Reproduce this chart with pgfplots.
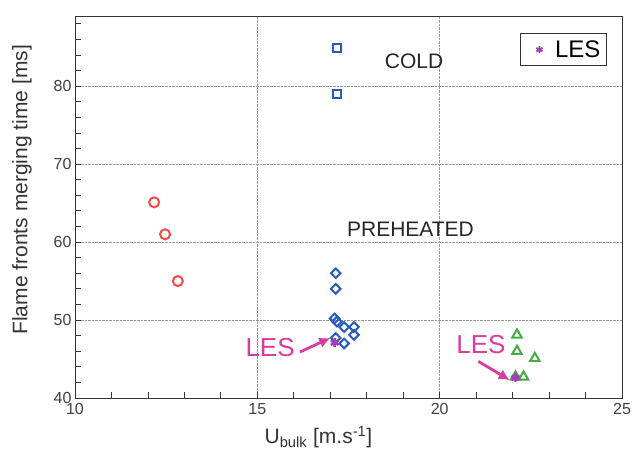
\documentclass[border=0pt]{standalone}
\usepackage{fontspec}
\setmainfont{Liberation Sans}
\usepackage{pgfplots}
\pgfplotsset{compat=1.18}
\usetikzlibrary{arrows.meta}
\definecolor{cred}{RGB}{240,75,75}
\definecolor{cblue}{RGB}{40,90,190}
\definecolor{cgreen}{RGB}{70,170,70}
\definecolor{cles}{RGB}{165,60,185}
\definecolor{cmag}{RGB}{215,60,160}
\begin{document}
\begin{tikzpicture}
\begin{axis}[
  name=ax,
  scale only axis,
  width=547pt, height=382pt,
  xmin=10, xmax=25, ymin=40, ymax=89,
  xtick={10,15,20,25}, ytick={40,50,60,70,80},
  minor xtick={11,12,13,14,16,17,18,19,21,22,23,24},
  minor ytick={42,44,46,48,52,54,56,58,62,64,66,68,72,74,76,78,82,84,86,88},
  tick align=inside, xtick pos=left, ytick pos=left,
  major tick length=6pt, minor tick length=6pt,
  grid=major,
  major grid style={densely dotted, gray!80, line width=0.7pt},
  axis line style={black!80, line width=0.8pt},
  every tick/.style={black!80, line width=0.8pt},
  /pgf/number format/assume math mode=true,
  tick label style={font=\fontsize{16}{18}\selectfont, text=black!75},
  xticklabel style={yshift=-2pt},
  xlabel={U\textsubscript{bulk} [m.s\textsuperscript{-1}]},
  ylabel={Flame fronts merging time [ms]},
  label style={font=\fontsize{21}{24}\selectfont, text=black!80},
  xlabel style={at={(axis description cs:0.445,-0.102)}, anchor=center},
  ylabel style={at={(axis description cs:-0.097,0.545)}, anchor=center},
  legend style={at={(1,1)}, anchor=north east, xshift=-15pt, yshift=-17pt,
    font=\fontsize{24}{26}\selectfont, draw=black!80, line width=1pt,
    inner xsep=4pt, inner ysep=5pt},
  legend image code/.code={\path (0cm,0cm) (0.95cm,0cm); \draw[mark repeat=2,mark phase=2,#1] plot coordinates {(0cm,0cm) (0.5cm,0cm) (0.95cm,0cm)};},
  legend cell align=left,
]
\addplot[only marks, mark=asterisk, mark size=3.5pt, color=cles, line width=1.8pt] coordinates {(17.12,47.1) (22.08,42.6)};
\addlegendentry{LES}
\addplot[only marks, mark=o, mark size=5pt, color=cred, line width=2pt, forget plot] coordinates {(12.17,65.1) (12.47,61.0) (12.82,55.0)};
\addplot[only marks, mark=square, mark size=4pt, color=cblue, line width=2pt, forget plot] coordinates {(17.18,84.9) (17.18,79.0)};
\addplot[only marks, mark=square, mark size=3.4pt, mark options={rotate=45}, color=cblue, line width=2pt, forget plot] coordinates {(17.15,56.0) (17.15,54.0) (17.12,50.2) (17.18,49.8) (17.38,49.1) (17.65,49.1) (17.65,48.1) (17.15,47.7) (17.38,47.0)};
\addplot[only marks, mark=triangle, mark size=5.5pt, color=cgreen, line width=2pt, forget plot] coordinates {(22.12,48.1) (22.12,46.0) (22.61,45.1) (22.30,42.7) (22.08,42.7)};
\addplot[only marks, mark=asterisk, mark size=4.5pt, color=cles, line width=2.4pt, forget plot] coordinates {(17.12,47.1) (22.08,42.6)};
\node[font=\fontsize{21}{24}\selectfont, text=black!85] at (axis cs:19.3,83.2) {COLD};
\node[font=\fontsize{21}{24}\selectfont, text=black!85] at (axis cs:19.2,61.7) {PREHEATED};
\node[font=\fontsize{26}{28}\selectfont, text=cmag] at (axis cs:15.35,46.5) {LES};
\node[font=\fontsize{26}{28}\selectfont, text=cmag] at (axis cs:21.13,46.9) {LES};
\draw[cmag, line width=2.8pt, -{Latex[length=11pt,width=11pt]}] (axis cs:16.17,45.9) -- (axis cs:17.0,47.7);
\draw[cmag, line width=2.8pt, -{Latex[length=11pt,width=11pt]}] (axis cs:21.06,44.7) -- (axis cs:21.92,42.3);
\end{axis}
\path ([xshift=-75pt,yshift=-59pt]ax.south west) rectangle ([xshift=15pt,yshift=16pt]ax.north east);
\end{tikzpicture}
\end{document}
